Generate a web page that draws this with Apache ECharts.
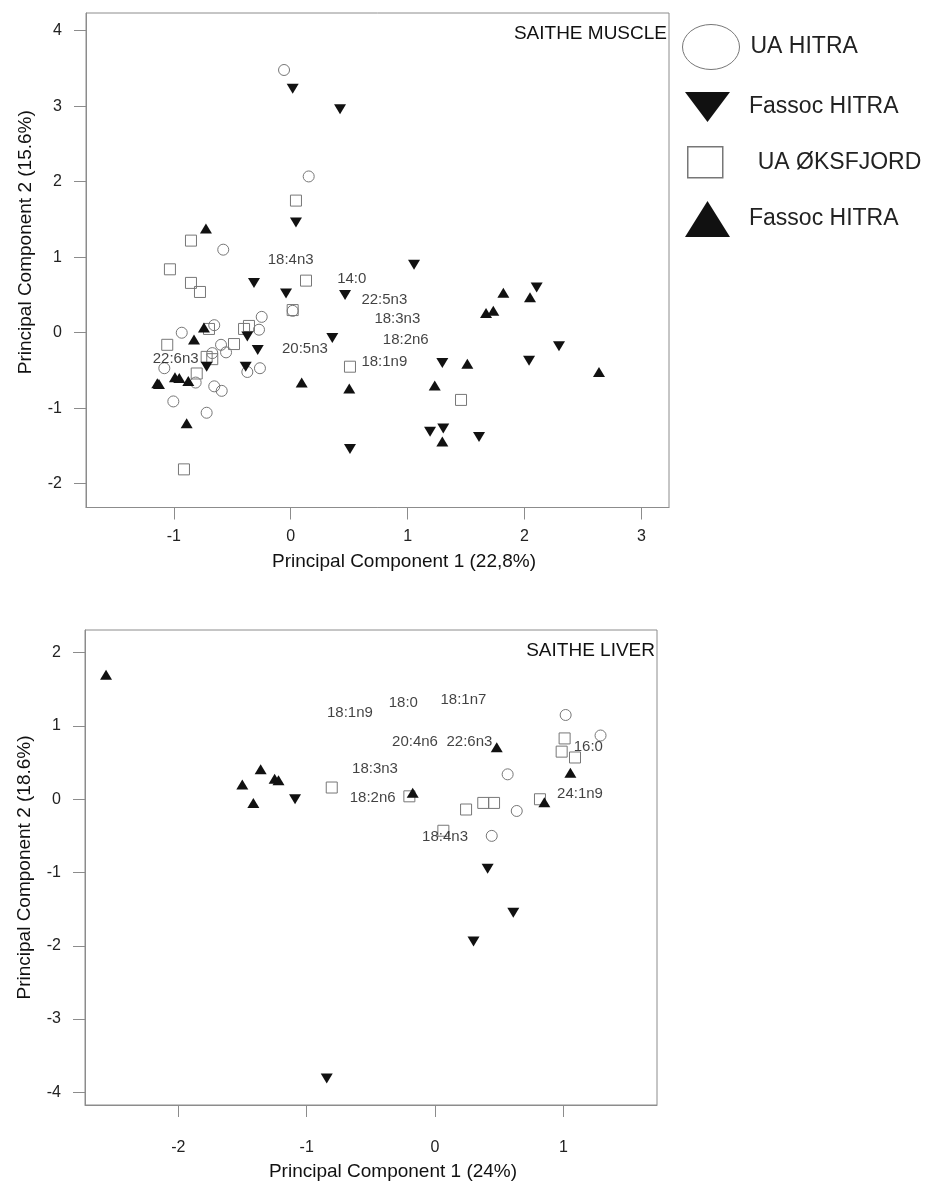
<!DOCTYPE html>
<html>
<head>
<meta charset="utf-8">
<title>Saithe PCA</title>
<script src="https://cdn.jsdelivr.net/npm/echarts@6/dist/echarts.min.js"></script>
<style>
  html, body { margin: 0; padding: 0; background: #fff; }
  #chart { width: 944px; height: 1190px; }
</style>
</head>
<body>
<div id="chart"></div>
<script>
// ---- muscle (top panel) ----
var muscleUaHitra = [
  [-0.057, 3.48], [0.154, 2.07], [-0.577, 1.10], [0.017, 0.29], [-0.248, 0.21],
  [-0.654, 0.10], [-0.932, 0.00], [-0.271, 0.04], [-0.596, -0.16], [-0.553, -0.26],
  [-0.671, -0.27], [-0.371, -0.52], [-0.263, -0.47], [-1.081, -0.47], [-0.813, -0.66],
  [-0.654, -0.71], [-0.590, -0.77], [-1.004, -0.91], [-0.719, -1.06]
];
var muscleFassocHitra = [
  [0.017, 3.23], [0.422, 2.96], [0.045, 1.46], [-0.314, 0.66], [-0.040, 0.52],
  [0.465, 0.50], [1.055, 0.90], [-0.371, -0.05], [0.356, -0.07], [-0.282, -0.23],
  [-0.719, -0.45], [-0.385, -0.45], [2.104, 0.60], [2.295, -0.18], [1.297, -0.40],
  [2.039, -0.37], [1.192, -1.31], [1.305, -1.27], [1.611, -1.38], [0.507, -1.54]
];
var muscleUaOksfjord = [
  [0.045, 1.75], [-0.853, 1.22], [-1.033, 0.84], [0.131, 0.69], [-0.853, 0.66],
  [-0.776, 0.54], [0.017, 0.30], [-0.699, 0.05], [-0.357, 0.09], [-0.399, 0.05],
  [-1.056, -0.16], [-0.485, -0.15], [-0.719, -0.32], [-0.671, -0.35], [-0.804, -0.54],
  [0.507, -0.45], [1.457, -0.89], [-0.913, -1.81]
];
var muscleFassoc2 = [
  [-0.725, 1.38], [-0.742, 0.07], [-0.827, -0.09], [-1.141, -0.67], [-1.127, -0.68],
  [-0.990, -0.59], [-0.953, -0.60], [-0.876, -0.64], [-0.890, -1.20], [0.094, -0.66],
  [0.501, -0.74], [1.819, 0.53], [2.047, 0.47], [1.671, 0.26], [1.733, 0.29],
  [1.511, -0.41], [2.637, -0.52], [1.232, -0.70], [1.297, -1.44]
];
var muscleLabelText = ['18:4n3', '14:0', '22:5n3', '18:3n3', '18:2n6', '18:1n9', '20:5n3', '22:6n3'];
var muscleLabelPos = [
  [0.0, 0.96], [0.522, 0.71], [0.801, 0.44], [0.912, 0.19],
  [0.984, -0.09], [0.801, -0.38], [0.122, -0.21], [-0.984, -0.35]
];
var muscleXTicks = [-1, 0, 1, 2, 3];
var muscleYTicks = [-2, -1, 0, 1, 2, 3, 4];

// ---- liver (bottom panel) ----
var liverUaHitra = [
  [0.442, -0.50], [1.018, 1.15], [1.29, 0.87], [0.566, 0.34], [0.637, -0.16]
];
var liverFassocHitra = [
  [-1.091, 0.00], [0.41, -0.95], [0.61, -1.55], [0.30, -1.94], [-0.844, -3.81]
];
var liverUaOksfjord = [
  [-0.805, 0.16], [-0.20, 0.04], [0.242, -0.14], [0.376, -0.05], [0.46, -0.05],
  [0.065, -0.43], [1.01, 0.83], [0.987, 0.65], [1.091, 0.57], [0.818, 0.00]
];
var liverFassoc2 = [
  [-2.564, 1.70], [-1.359, 0.41], [-1.502, 0.20], [-1.25, 0.28], [-1.22, 0.26],
  [-1.416, -0.05], [-0.174, 0.09], [0.481, 0.71], [1.055, 0.36], [0.852, -0.04]
];
var liverLabelText = ['18:1n9', '18:0', '18:1n7', '20:4n6', '22:6n3', '18:3n3', '18:2n6', '18:4n3', '16:0', '24:1n9'];
var liverLabelPos = [
  [-0.663, 1.18], [-0.247, 1.32], [0.221, 1.35], [-0.156, 0.79], [0.268, 0.78],
  [-0.468, 0.41], [-0.486, 0.02], [0.078, -0.51], [1.195, 0.72], [1.13, 0.08]
];
var liverXTicks = [-2, -1, 0, 1];
var liverYTicks = [-4, -3, -2, -1, 0, 1, 2];

var FONT = 'Liberation Sans, Arial, Helvetica, sans-serif';
var axisGray = '#8c8c8c';
var markGray = '#777';
var black = '#111';

function axis(grid, min, max, ticks, name, gap, labelMargin, namePad) {
  return {
    type: 'value',
    gridIndex: grid,
    min: min,
    max: max,
    name: name,
    nameLocation: 'middle',
    nameGap: gap,
    nameTextStyle: { fontFamily: FONT, fontSize: 19, color: '#111', padding: namePad },
    axisLine: { show: true, onZero: false, lineStyle: { color: axisGray } },
    axisTick: { show: true, length: 12, customValues: ticks, lineStyle: { color: axisGray } },
    axisLabel: { customValues: ticks, margin: labelMargin, fontFamily: FONT, fontSize: 16, color: '#222' },
    splitLine: { show: false }
  };
}

function marks(name, grid, data, kind) {
  var s = {
    name: name,
    type: 'scatter',
    xAxisIndex: grid,
    yAxisIndex: grid,
    data: data,
    emphasis: { disabled: true }
  };
  if (kind === 'circle' || kind === 'rect') {
    s.symbol = kind;
    s.symbolSize = 11;
    s.itemStyle = { color: 'rgba(255,255,255,0)', borderColor: markGray, borderWidth: 1, opacity: 1 };
  } else {
    s.symbol = 'triangle';
    s.symbolSize = [12, 10];
    s.symbolRotate = kind === 'down' ? 180 : 0;
    s.itemStyle = { color: black, opacity: 1 };
  }
  return s;
}

function labels(grid, pos, text) {
  return {
    type: 'scatter',
    xAxisIndex: grid,
    yAxisIndex: grid,
    symbolSize: 1,
    silent: true,
    itemStyle: { color: 'rgba(0,0,0,0)' },
    data: pos.map(function (p, i) { return { value: p, name: text[i] }; }),
    label: { show: true, position: 'inside', formatter: '{b}', fontFamily: FONT, fontSize: 15, color: '#111' }
  };
}

var ellipseIcon = 'path://M0,22.5A28.5,22.5,0,1,1,57,22.5A28.5,22.5,0,1,1,0,22.5Z';
var downIcon = 'path://M0,0L45,0L22.5,30Z';
var upIcon = 'path://M22.5,0L45,36L0,36Z';

function legendItem(left, top, w, h, name, icon, style, pad) {
  return {
    left: left, top: top, orient: 'vertical',
    itemWidth: w, itemHeight: h,
    selectedMode: false,
    data: [{ name: name, icon: icon, itemStyle: style }],
    formatter: function () { return name === 'Fassoc HITRA (2)' ? 'Fassoc HITRA' : name; },
    textStyle: { fontFamily: FONT, fontSize: 23, color: '#222', padding: pad }
  };
}

var option = {
  backgroundColor: '#fff',
  animation: false,
  title: [
    { text: 'SAITHE MUSCLE', right: 277, top: 24, padding: 0,
      textStyle: { fontFamily: FONT, fontSize: 19, fontWeight: 'normal', color: '#111' } },
    { text: 'SAITHE LIVER', right: 289, top: 641, padding: 0,
      textStyle: { fontFamily: FONT, fontSize: 19, fontWeight: 'normal', color: '#111' } }
  ],
  legend: [
    legendItem(677, 19, 57, 45, 'UA HITRA', ellipseIcon,
      { color: '#fff', borderColor: markGray, borderWidth: 1, opacity: 1 }, [0, 0, 0, 6]),
    legendItem(680, 87, 45, 30, 'Fassoc HITRA', downIcon,
      { color: black, borderWidth: 0, opacity: 1 }, [0, 0, 10, 14]),
    legendItem(682, 141, 35, 31, 'UA ØKSFJORD', 'rect',
      { color: '#fff', borderColor: markGray, borderWidth: 1.5, opacity: 1 }, [9, 0, 0, 30]),
    legendItem(680, 196, 45, 36, 'Fassoc HITRA (2)', upIcon,
      { color: black, borderWidth: 0, opacity: 1 }, [0, 0, 13, 14])
  ],
  grid: [
    { left: 86, top: 13, width: 583, height: 494.5, show: true, backgroundColor: '#fff',
      borderColor: axisGray, borderWidth: 1 },
    { left: 85, top: 630, width: 572, height: 475, show: true, backgroundColor: '#fff',
      borderColor: axisGray, borderWidth: 1 }
  ],
  xAxis: [
    axis(0, -1.751, 3.236, muscleXTicks, 'Principal Component 1 (22,8%)', 45, 21, [0, 0, 0, 53]),
    axis(1, -2.728, 1.73, liverXTicks, 'Principal Component 1 (24%)', 57, 35, [0, 0, 0, 44])
  ],
  yAxis: [
    axis(0, -2.315, 4.235, muscleYTicks, 'Principal Component 2 (15.6%)', 51, 24, [0, 0, 0, 36]),
    axis(1, -4.173, 2.31, liverYTicks, 'Principal Component 2 (18.6%)', 51, 24, [0, 0, 0, 0])
  ],
  series: [
    marks('UA HITRA', 0, muscleUaHitra, 'circle'),
    marks('UA ØKSFJORD', 0, muscleUaOksfjord, 'rect'),
    marks('Fassoc HITRA', 0, muscleFassocHitra, 'down'),
    marks('Fassoc HITRA (2)', 0, muscleFassoc2, 'up'),
    labels(0, muscleLabelPos, muscleLabelText),
    marks('UA HITRA', 1, liverUaHitra, 'circle'),
    marks('UA ØKSFJORD', 1, liverUaOksfjord, 'rect'),
    marks('Fassoc HITRA', 1, liverFassocHitra, 'down'),
    marks('Fassoc HITRA (2)', 1, liverFassoc2, 'up'),
    labels(1, liverLabelPos, liverLabelText)
  ]
};

var myChart = echarts.init(document.getElementById('chart'));
myChart.setOption(option);
</script>
</body>
</html>
